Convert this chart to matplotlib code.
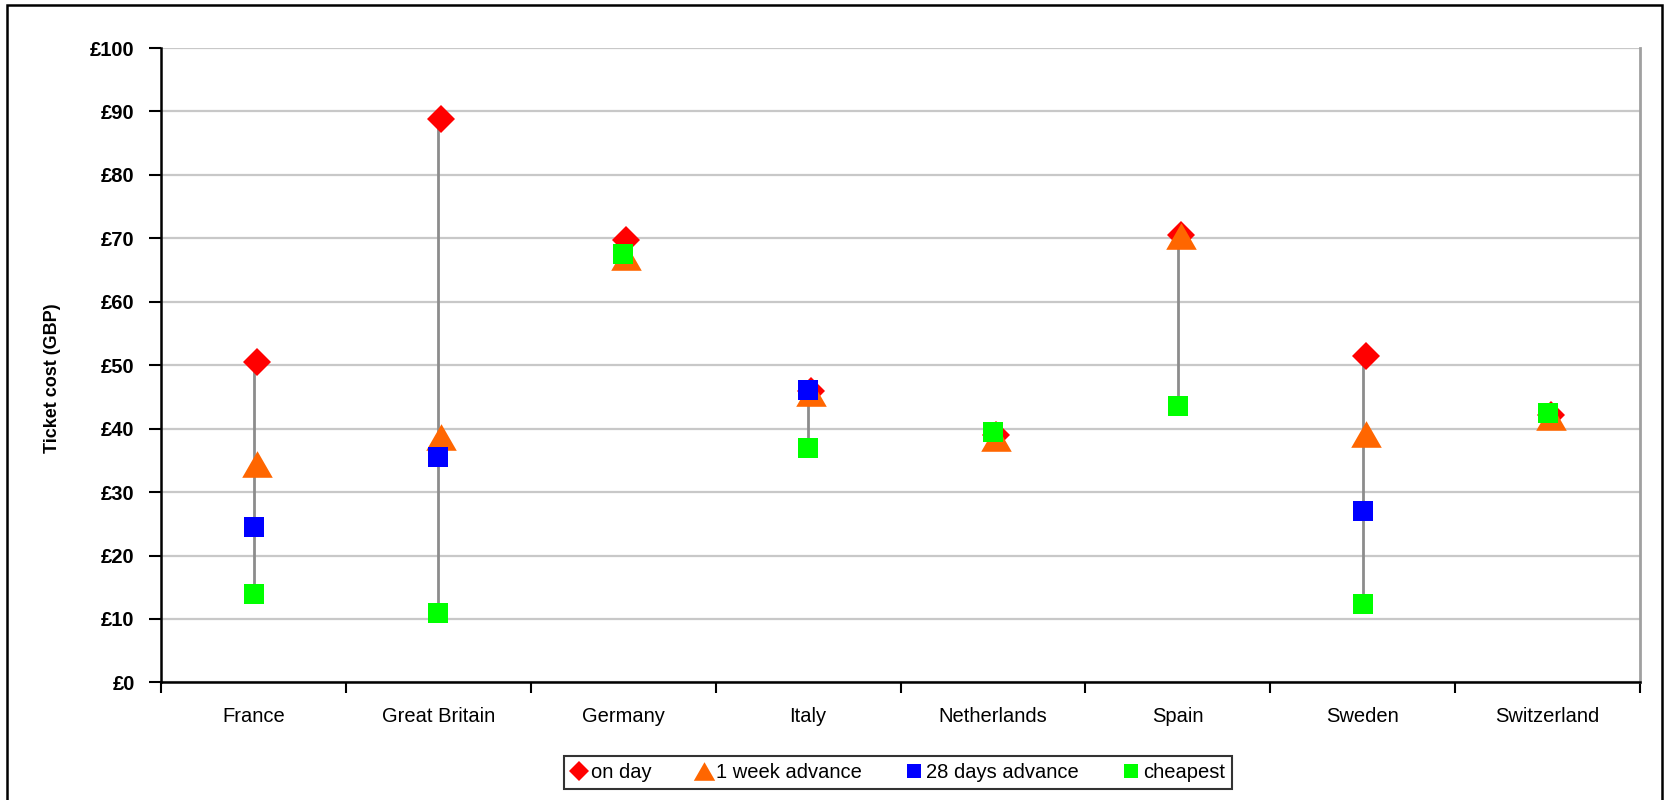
import numpy as np
import matplotlib.pyplot as plt
from matplotlib.patches import Rectangle
from matplotlib.ticker import FixedLocator, FuncFormatter
from matplotlib.transforms import ScaledTranslation

plt.rcParams["font.family"] = "Liberation Sans"

countries = ['France', 'Great Britain', 'Germany', 'Italy', 'Netherlands',
             'Spain', 'Sweden', 'Switzerland']
on_day = [50.5, 88.8, 69.7, 45.9, 39.0, 70.5, 51.4, 42.1]
week_advance = [34.5, 38.7, 67.0, 45.6, 38.5, 70.3, 39.2, 41.9]
days28_advance = [24.5, 35.6, np.nan, 46.1, np.nan, np.nan, 27.0, np.nan]
cheapest = [14.0, 11.0, 67.5, 37.0, 39.5, 43.5, 12.4, 42.5]

# triangle a bit flatter than matplotlib's '^'
tri = [(-1, -0.87), (1, -0.87), (0, 0.87), (-1, -0.87)]

fig = plt.figure(figsize=(16.64, 8), dpi=100)
ax = fig.add_axes([0.0968, 0.147, 0.8888, 0.793])

x = np.arange(len(countries))
allv = np.array([on_day, week_advance, days28_advance, cheapest])
lo = np.nanmin(allv, axis=0)
hi = np.nanmax(allv, axis=0)
ax.vlines(x, lo, hi, color='#8c8c8c', linewidth=2, zorder=2)

# diamonds and triangles sit a few pixels right of the squares
shift = ax.transData + ScaledTranslation(3 / 100, 0, fig.dpi_scale_trans)

ax.plot(x, on_day, linestyle='none', marker='D', markersize=14.5,
        color='#ff0000', markeredgewidth=0, label='on day', zorder=3,
        transform=shift)
ax.plot(x, week_advance, linestyle='none', marker=tri, markersize=22,
        color='#ff6600', markeredgewidth=0, label='1 week advance', zorder=4,
        transform=shift)
ax.plot(x, days28_advance, linestyle='none', marker='s', markersize=14.5,
        color='#0000ff', markeredgewidth=0, label='28 days advance', zorder=5)
ax.plot(x, cheapest, linestyle='none', marker='s', markersize=14.5,
        color='#00ff00', markeredgewidth=0, label='cheapest', zorder=6)

ax.set_xlim(-0.5, len(countries) - 0.5)
ax.set_ylim(0, 100)
ax.set_yticks(np.arange(0, 101, 10))
ax.yaxis.set_major_formatter(FuncFormatter(lambda v, p: '£%d' % v))
ax.yaxis.grid(True, color='#c8c8c8', linewidth=1.6)
ax.set_axisbelow(True)

ax.set_xticks(x)
ax.set_xticklabels(countries, fontsize=14.5)
ax.xaxis.set_minor_locator(FixedLocator(np.arange(-0.5, len(countries), 1)))
ax.tick_params(axis='x', which='major', length=0, pad=18)
ax.tick_params(axis='x', which='minor', length=8, width=1.5, direction='out')
ax.tick_params(axis='y', length=9, width=1.5, pad=10, labelsize=14.5)
for lab in ax.get_yticklabels():
    lab.set_fontweight('bold')

ax.spines['top'].set_visible(False)
ax.spines['right'].set_color('#a0a0a0')
ax.spines['right'].set_linewidth(2)
ax.spines['left'].set_linewidth(1.8)
ax.spines['bottom'].set_linewidth(1.8)

ax.set_ylabel('Ticket cost (GBP)', fontsize=13, fontweight='bold')
ax.yaxis.set_label_coords(-0.068, 0.48)

leg = fig.legend(loc='center', bbox_to_anchor=(0.5397, 0.034), ncol=4,
                 fontsize=14.5, frameon=True, fancybox=False, markerscale=0.7,
                 handlelength=0.8, handletextpad=0.2, columnspacing=2.2,
                 borderpad=0.35, edgecolor='black')
leg.get_frame().set_linewidth(1.5)

# outer frame around the whole chart
fig.patches.append(Rectangle((0.0045, -0.02), 0.9945, 1.014, transform=fig.transFigure,
                             fill=False, edgecolor='black', linewidth=1.8))

fig.savefig('out.png', dpi=100)
